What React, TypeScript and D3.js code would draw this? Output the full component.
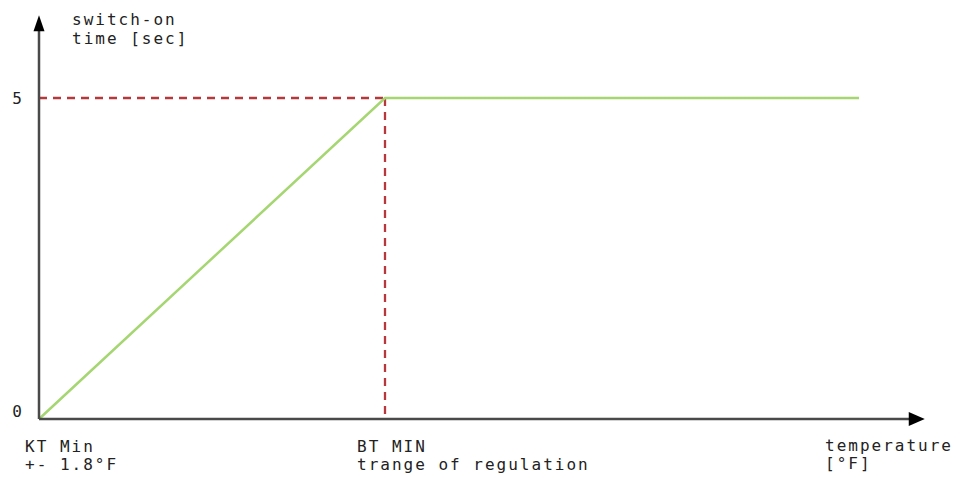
import React from "react";
import * as d3 from "d3";

const lineX = [0, 1, 2.37];
const lineY = [0, 5, 5];
const yTicks = [0, 5];
const xAxisMax = 2.56;
const yAxisMax = 6.29;
const yTitle = ["switch-on", "time [sec]"];
const xLabelKT = ["KT Min", "+- 1.8°F"];
const xLabelBT = ["BT MIN", "trange of regulation"];
const xTitle = ["temperature", "[°F]"];

const W = 961;
const H = 478;

export default function App() {
  const x = d3.scaleLinear().domain([0, 1]).range([39, 385]);
  const y = d3.scaleLinear().domain([0, 5]).range([419, 98]);
  const line = d3
    .line<number>()
    .x((_, i) => x(lineX[i]))
    .y((d) => y(d));
  const axisColor = "#4a4a4a";
  const dashColor = "#b5393c";
  const green = "#a6d672";
  const font = {
    fontFamily: "'DejaVu Sans Mono', monospace",
    fontSize: 16,
    letterSpacing: 2,
    fill: "#222",
  } as const;
  const x0 = x(0);
  const y0 = y(0);
  const xEnd = x(xAxisMax);
  const yEnd = y(yAxisMax);
  const xBT = x(lineX[1]);
  const yMax = y(lineY[1]);
  return (
    <svg
      width={W}
      height={H}
      style={{ position: "absolute", left: 0, top: 0, background: "#fff" }}
    >
      {/* dashed guides */}
      <line x1={x0} x2={xBT} y1={yMax} y2={yMax} stroke={dashColor} strokeWidth={2.3} strokeDasharray="8,6" />
      <line x1={xBT} x2={xBT} y1={yMax} y2={y0} stroke={dashColor} strokeWidth={2.3} strokeDasharray="8,6" />
      {/* data line */}
      <path d={line(lineY) || ""} fill="none" stroke={green} strokeWidth={2.5} />
      {/* axes */}
      <line x1={x0} x2={xEnd - 14} y1={y0} y2={y0} stroke={axisColor} strokeWidth={2.5} />
      <line x1={x0} x2={x0} y1={y0} y2={yEnd + 14} stroke={axisColor} strokeWidth={2.5} />
      <path d={`M${xEnd},${y0} L${xEnd - 16},${y0 - 7} L${xEnd - 16},${y0 + 7} Z`} fill="#000" />
      <path d={`M${x0},${yEnd} L${x0 - 5.5},${yEnd + 16} L${x0 + 5.5},${yEnd + 16} Z`} fill="#000" />
      {/* y ticks */}
      {yTicks.map((t) => (
        <text key={t} x={x0 - 22} y={y(t) + (t === 0 ? -2 : 6)} textAnchor="middle" {...font} letterSpacing={0}>
          {t}
        </text>
      ))}
      {/* y title */}
      {yTitle.map((s, i) => (
        <text key={s} x={72} y={25 + i * 19} {...font}>
          {s}
        </text>
      ))}
      {/* x labels */}
      {xLabelKT.map((s, i) => (
        <text key={s} x={x0 - 14} y={452 + i * 18} {...font}>
          {s}
        </text>
      ))}
      {xLabelBT.map((s, i) => (
        <text key={s} x={xBT - 28} y={452 + i * 18} {...font}>
          {s}
        </text>
      ))}
      {xTitle.map((s, i) => (
        <text key={s} x={825} y={451 + i * 18} {...font}>
          {s}
        </text>
      ))}
    </svg>
  );
}
